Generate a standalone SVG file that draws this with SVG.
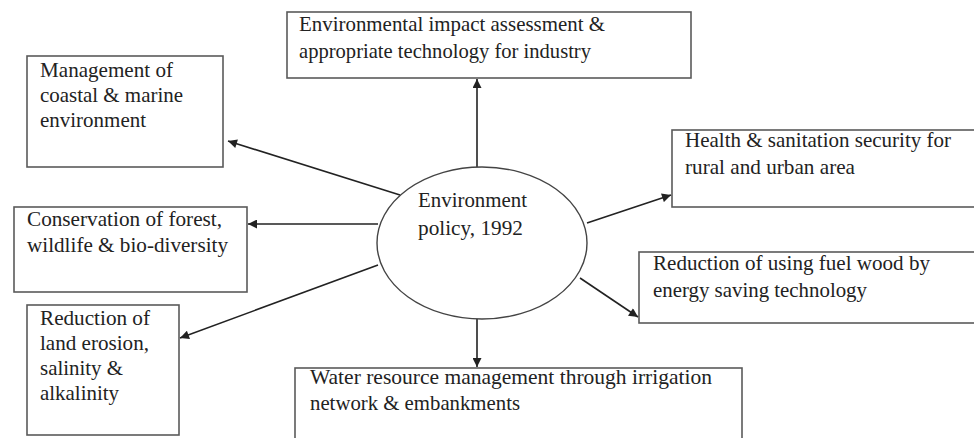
<svg xmlns="http://www.w3.org/2000/svg" width="974" height="438" viewBox="0 0 974 438">
<defs>
<style>
.box{fill:#fff;stroke:#5a5a5a;stroke-width:1.6}
.t{font-family:"Liberation Serif","Times New Roman",serif;font-size:21px;fill:#222}
.c{stroke:#222;stroke-width:1.6;fill:none;marker-end:url(#ah)}
</style>
<marker id="ah" viewBox="0 0 10 10" refX="10" refY="5" markerWidth="11" markerHeight="9" markerUnits="userSpaceOnUse" orient="auto">
<path d="M0,0 L10,5 L0,10 z" fill="#222"/>
</marker>
</defs>
<rect width="974" height="438" fill="#fff"/>
<g id="top">
<rect class="box" x="287" y="12" width="404" height="66"/>
<text class="t" x="299" y="31" textLength="306" lengthAdjust="spacingAndGlyphs">Environmental impact assessment &amp;</text>
<text class="t" x="299" y="58" textLength="292" lengthAdjust="spacingAndGlyphs">appropriate technology for industry</text>
</g>
<g id="management">
<rect class="box" x="27" y="56" width="196" height="111"/>
<text class="t" x="40" y="77" textLength="133" lengthAdjust="spacingAndGlyphs">Management of</text>
<text class="t" x="40" y="102" textLength="143" lengthAdjust="spacingAndGlyphs">coastal &amp; marine</text>
<text class="t" x="40" y="127" textLength="106" lengthAdjust="spacingAndGlyphs">environment</text>
</g>
<g id="conservation">
<rect class="box" x="14" y="207" width="233" height="85"/>
<text class="t" x="27" y="226" textLength="195" lengthAdjust="spacingAndGlyphs">Conservation of forest,</text>
<text class="t" x="27" y="252" textLength="201" lengthAdjust="spacingAndGlyphs">wildlife &amp; bio-diversity</text>
</g>
<g id="reduction-land">
<rect class="box" x="27" y="305" width="152" height="130"/>
<text class="t" x="40" y="325" textLength="110" lengthAdjust="spacingAndGlyphs">Reduction of</text>
<text class="t" x="40" y="350" textLength="109" lengthAdjust="spacingAndGlyphs">land erosion,</text>
<text class="t" x="40" y="375" textLength="83" lengthAdjust="spacingAndGlyphs">salinity &amp;</text>
<text class="t" x="40" y="400" textLength="79" lengthAdjust="spacingAndGlyphs">alkalinity</text>
</g>
<g id="health">
<rect class="box" x="672" y="130" width="310" height="77"/>
<text class="t" x="685" y="147" textLength="266" lengthAdjust="spacingAndGlyphs">Health &amp; sanitation security for</text>
<text class="t" x="685" y="174" textLength="170" lengthAdjust="spacingAndGlyphs">rural and urban area</text>
</g>
<g id="fuelwood">
<rect class="box" x="639" y="252" width="345" height="71"/>
<text class="t" x="653" y="270" textLength="277" lengthAdjust="spacingAndGlyphs">Reduction of using fuel wood by</text>
<text class="t" x="653" y="297" textLength="214" lengthAdjust="spacingAndGlyphs">energy saving technology</text>
</g>
<g id="water">
<rect class="box" x="295" y="368" width="447" height="80"/>
<text class="t" x="310" y="384" textLength="402" lengthAdjust="spacingAndGlyphs">Water resource management through irrigation</text>
<text class="t" x="310" y="410" textLength="210" lengthAdjust="spacingAndGlyphs">network &amp; embankments</text>
</g>
<g id="connectors">
<line class="c" x1="477" y1="167" x2="477" y2="79"/>
<line class="c" x1="400" y1="195" x2="228" y2="141"/>
<line class="c" x1="378" y1="224" x2="248" y2="224"/>
<line class="c" x1="378" y1="265" x2="180" y2="338"/>
<line class="c" x1="587" y1="223" x2="671" y2="195"/>
<line class="c" x1="580" y1="278" x2="638" y2="317"/>
<line class="c" x1="477" y1="319" x2="477" y2="367"/>
</g>
<g id="center">
<ellipse cx="482" cy="243" rx="105" ry="76" fill="#fff" stroke="#444" stroke-width="1.4"/>
<text class="t" x="418" y="207" textLength="109" lengthAdjust="spacingAndGlyphs">Environment</text>
<text class="t" x="418" y="235" textLength="105" lengthAdjust="spacingAndGlyphs">policy, 1992</text>
</g>
</svg>
